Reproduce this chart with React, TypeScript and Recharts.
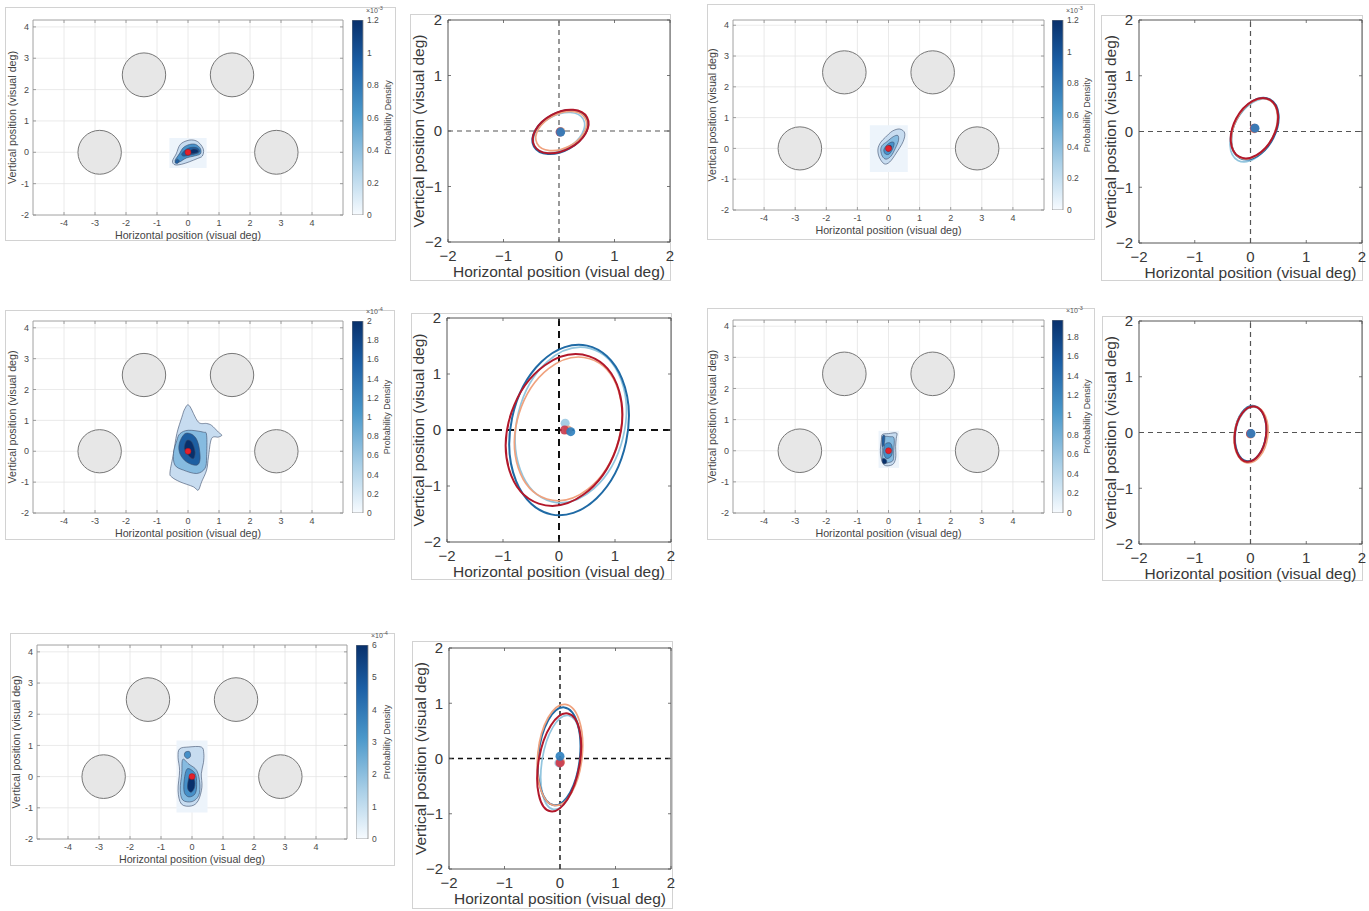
import React from "react";
import {
  Bar,
  BarChart,
  CartesianGrid,
  Label,
  ReferenceArea,
  ReferenceLine,
  Scatter,
  ScatterChart,
  XAxis,
  YAxis,
} from "recharts";

type XY = [number, number];
type Box = { x: number; y: number; w: number; h: number };

const FONT = '"Liberation Sans", Arial, Helvetica, sans-serif';

//------------------------------------------------------------
// Data (visual deg)
//------------------------------------------------------------

// placeholder discs shown on every density map
const targetX = [-2.85, -1.42, 1.42, 2.85];
const targetY = [0, 2.47, 2.47, 0];
const targetR = 0.7;

const heatXTicks = [-4, -3, -2, -1, 0, 1, 2, 3, 4];
const heatYTicks = [-2, -1, 0, 1, 2, 3, 4];
const ellTicks = [-2, -1, 0, 1, 2];

// density contour outlines, outer -> inner
const bgA: XY[] = [[-0.6, -0.5], [0.6, -0.5], [0.6, 0.46], [-0.6, 0.46]];
const blobA_edge: XY[] = [[-0.5, -0.28], [-0.38, -0.05], [-0.25, 0.25], [0.0, 0.38], [0.22, 0.38], [0.38, 0.28], [0.5, 0.08], [0.46, -0.12], [0.3, -0.2], [0.05, -0.3], [-0.2, -0.38], [-0.42, -0.4]];
const blobA_mid: XY[] = [[-0.42, -0.27], [-0.28, -0.05], [-0.15, 0.15], [0.05, 0.25], [0.25, 0.25], [0.4, 0.12], [0.4, -0.05], [0.2, -0.12], [-0.05, -0.18], [-0.3, -0.32]];
const blobA_high: XY[] = [[-0.2, -0.05], [-0.05, 0.1], [0.15, 0.16], [0.33, 0.12], [0.36, 0.0], [0.2, -0.06], [0.0, -0.1], [-0.15, -0.12]];
const blobA_peak: XY[] = [[0.05, 0.02], [0.15, 0.1], [0.3, 0.08], [0.32, 0.0], [0.18, -0.04], [0.07, -0.04]];
const blobA_spot: XY[] = [[-0.42, -0.32], [-0.35, -0.22], [-0.28, -0.28], [-0.35, -0.36]];

const bgC: XY[] = [[-0.6, -0.77], [0.62, -0.77], [0.62, 0.75], [-0.6, 0.75]];
const blobC_edge: XY[] = [[-0.34, -0.02], [-0.3, -0.28], [-0.14, -0.5], [0.04, -0.44], [0.25, -0.15], [0.47, 0.22], [0.52, 0.5], [0.36, 0.63], [0.12, 0.56], [-0.1, 0.36], [-0.25, 0.2]];
const blobC_mid: XY[] = [[-0.25, -0.05], [-0.2, -0.25], [-0.08, -0.35], [0.08, -0.25], [0.22, 0.0], [0.32, 0.25], [0.3, 0.42], [0.15, 0.38], [-0.05, 0.22], [-0.2, 0.1]];
const blobC_high: XY[] = [[-0.15, -0.05], [-0.1, -0.18], [0.03, -0.18], [0.14, 0.0], [0.18, 0.18], [0.08, 0.2], [-0.06, 0.1]];
const blobC_peak: XY[] = [[-0.07, -0.02], [-0.02, -0.1], [0.06, -0.06], [0.1, 0.06], [0.04, 0.1], [-0.04, 0.06]];

const blobE_edge: XY[] = [[0.04, 1.48], [0.33, 0.95], [0.6, 0.9], [0.76, 0.84], [0.98, 0.62], [1.09, 0.52], [0.98, 0.46], [0.76, 0.41], [0.66, -0.18], [0.6, -0.61], [0.44, -0.99], [0.33, -1.26], [0.17, -1.15], [-0.26, -0.99], [-0.53, -0.83], [-0.58, -0.67], [-0.47, -0.08], [-0.36, 0.57], [-0.2, 1.1], [-0.1, 1.38]];
const blobE_mid: XY[] = [[-0.26, 0.57], [0.01, 0.68], [0.49, 0.62], [0.6, 0.52], [0.6, -0.18], [0.55, -0.55], [0.28, -0.72], [-0.15, -0.61], [-0.42, -0.45], [-0.47, -0.07], [-0.36, 0.35]];
const blobE_high: XY[] = [[-0.1, 0.57], [0.17, 0.52], [0.33, 0.25], [0.39, -0.24], [0.28, -0.45], [-0.04, -0.35], [-0.26, -0.08], [-0.28, 0.25]];
const blobE_peak: XY[] = [[-0.04, 0.35], [0.12, 0.3], [0.23, -0.02], [0.17, -0.24], [0.01, -0.13], [-0.12, 0.09]];

const bgG: XY[] = [[-0.32, -0.55], [0.34, -0.55], [0.34, 0.64], [-0.32, 0.64]];
const blobG_edge: XY[] = [[-0.2, 0.52], [0.0, 0.55], [0.26, 0.57], [0.25, 0.4], [0.23, 0.14], [0.23, -0.24], [0.12, -0.45], [-0.15, -0.45], [-0.26, -0.08], [-0.23, 0.35]];
const blobG_mid: XY[] = [[-0.17, 0.42], [0.05, 0.45], [0.18, 0.4], [0.17, 0.0], [0.15, -0.3], [0.0, -0.38], [-0.18, -0.38], [-0.2, 0.0]];
const blobG_high: XY[] = [[-0.12, 0.2], [0.05, 0.25], [0.12, 0.1], [0.1, -0.15], [-0.05, -0.25], [-0.15, -0.1]];
const blobG_low: XY[] = [[-0.18, -0.25], [-0.08, -0.28], [-0.06, -0.38], [-0.15, -0.42], [-0.2, -0.35]];
const blobG_rim: XY[] = [[-0.2, 0.45], [-0.12, 0.48], [-0.14, 0.2], [-0.2, 0.15]];

const bgI: XY[] = [[-0.5, -1.15], [0.5, -1.15], [0.5, 1.16], [-0.5, 1.16]];
const blobI_edge: XY[] = [[-0.4, 0.89], [-0.1, 0.95], [0.3, 0.95], [0.38, 0.75], [0.37, 0.45], [0.3, 0.09], [0.32, -0.34], [0.2, -0.77], [-0.02, -0.94], [-0.34, -0.88], [-0.45, -0.45], [-0.4, 0.19], [-0.45, 0.62]];
const blobI_mid: XY[] = [[-0.3, 0.55], [-0.1, 0.4], [0.15, 0.2], [0.25, -0.2], [0.22, -0.6], [0.0, -0.8], [-0.3, -0.75], [-0.38, -0.4], [-0.33, 0.1]];
const blobI_high: XY[] = [[-0.15, 0.25], [0.1, 0.1], [0.15, -0.25], [0.1, -0.55], [-0.1, -0.65], [-0.25, -0.5], [-0.25, -0.1]];
const blobI_peak: XY[] = [[-0.05, 0.05], [0.08, -0.1], [0.08, -0.35], [-0.03, -0.5], [-0.14, -0.38], [-0.12, -0.12]];
const blobI_top: XY[] = [[-0.22, 0.78], [-0.08, 0.8], [-0.05, 0.65], [-0.15, 0.58], [-0.24, 0.66]];

// colour bar scales
const cbTicksA = [0, 0.2, 0.4, 0.6, 0.8, 1, 1.2];
const cbTicksE = [0, 0.2, 0.4, 0.6, 0.8, 1, 1.2, 1.4, 1.6, 1.8, 2];
const cbTicksG = [0, 0.2, 0.4, 0.6, 0.8, 1, 1.2, 1.4, 1.6, 1.8];
const cbTicksI = [0, 1, 2, 3, 4, 5, 6];

// ellipses: [cx, cy, semi-major, semi-minor, angle deg]; order light blue, dark blue, orange, dark red
const ellB = [[0.0, -0.03, 0.5, 0.31, 29], [0.02, -0.02, 0.54, 0.34, 29], [0.04, 0.0, 0.49, 0.31, 27], [0.03, -0.01, 0.54, 0.34, 28]];
const ellD = [[0.06, 0.02, 0.61, 0.36, 62], [0.08, 0.05, 0.59, 0.37, 63], [0.07, 0.05, 0.58, 0.36, 63], [0.07, 0.06, 0.58, 0.37, 62]];
const ellF = [[0.21, 0.09, 1.41, 0.96, 76], [0.18, 0.0, 1.54, 1.04, 78], [0.165, 0.02, 1.31, 0.92, 73], [0.09, 0.0, 1.39, 0.99, 71]];
const ellH = [[0.01, -0.03, 0.49, 0.28, 82], [0.0, -0.02, 0.5, 0.28, 83], [0.01, -0.04, 0.51, 0.3, 82], [0.0, -0.03, 0.5, 0.28, 82]];
const ellJ = [[0.015, -0.07, 0.86, 0.34, 81], [-0.015, 0.04, 0.89, 0.375, 84], [0.0, 0.065, 0.92, 0.4, 84], [-0.015, -0.07, 0.9, 0.37, 80]];

// mean fixation positions, same order
const dotsB: XY[] = [[0.02, -0.02], [0.03, -0.02], [0.03, -0.01], [0.02, -0.02]];
const dotsD: XY[] = [[0.07, 0.06], [0.08, 0.06], [0.07, 0.05], [0.07, 0.06]];
const dotsF: XY[] = [[0.11, 0.12], [0.21, -0.03], [0.16, 0.0], [0.1, 0.0]];
const dotsH: XY[] = [[0.0, -0.02], [0.01, -0.02], [0.0, -0.03], [0.0, -0.02]];
const dotsJ: XY[] = [[-0.02, -0.08], [0.0, 0.04], [0.01, -0.06], [0.0, -0.08]];

//------------------------------------------------------------
// Styling
//------------------------------------------------------------

const ELL_COLORS = ["#92c5de", "#1f6aa5", "#f0a27e", "#b2182b"];
const ELL_WIDTHS = [1.7, 2, 1.7, 2];
const DOT_COLORS = ["#9cc9e2", "#2c7fbf", "#f0a27e", "#c83a4e"];
const DOT_ORDER = [0, 2, 3, 1];
const LEVELS = ["#c7dcf0", "#86bbe0", "#4690c8", "#1d5fa2", "#08306b"];
const PAD = 8;

const noShape = () => <g />;

const toPts = (a: XY[]) => a.map(([x, y]) => ({ x, y }));

function closedPath(p: { x: number; y: number }[], smooth: boolean) {
  if (!p || p.length < 3) return "";
  if (!smooth) return "M" + p.map((q) => `${q.x},${q.y}`).join("L") + "Z";
  const n = p.length;
  let d = `M${p[0].x},${p[0].y}`;
  for (let i = 0; i < n; i++) {
    const p0 = p[(i - 1 + n) % n];
    const p1 = p[i];
    const p2 = p[(i + 1) % n];
    const p3 = p[(i + 2) % n];
    const c1x = p1.x + (p2.x - p0.x) / 6;
    const c1y = p1.y + (p2.y - p0.y) / 6;
    const c2x = p2.x - (p3.x - p1.x) / 6;
    const c2y = p2.y - (p3.y - p1.y) / 6;
    d += `C${c1x},${c1y} ${c2x},${c2y} ${p2.x},${p2.y}`;
  }
  return d + "Z";
}

const polyLine = (fill: string, stroke: string, sw: number, smooth = true) => (props: any) =>
  <path d={closedPath(props.points, smooth)} fill={fill} stroke={stroke} strokeWidth={sw} />;

// points: centre, end of major axis, end of minor axis (already in pixels)
const ellipseLine = (stroke: string, sw: number, fill = "none") => (props: any) => {
  const [c, m, n] = props.points;
  const rx = Math.hypot(m.x - c.x, m.y - c.y);
  const ry = Math.hypot(n.x - c.x, n.y - c.y);
  const deg = (Math.atan2(m.y - c.y, m.x - c.x) * 180) / Math.PI;
  return (
    <ellipse cx={c.x} cy={c.y} rx={rx} ry={ry} transform={`rotate(${deg} ${c.x} ${c.y})`}
      fill={fill} stroke={stroke} strokeWidth={sw} />
  );
};

function axesPoints(e: number[]) {
  const [cx, cy, a, b, deg] = e;
  const t = (deg * Math.PI) / 180;
  return [
    { x: cx, y: cy },
    { x: cx + a * Math.cos(t), y: cy + a * Math.sin(t) },
    { x: cx - b * Math.sin(t), y: cy + b * Math.cos(t) },
  ];
}

const dotShape = (fill: string, r: number) => (p: any) =>
  <circle cx={p.cx} cy={p.cy} r={r} fill={fill} fillOpacity={0.9} />;

const redDot = (p: any) => <circle cx={p.cx} cy={p.cy} r={3} fill="#e3212b" stroke="#a8141c" strokeWidth={0.5} />;

type TickOpts = { plot: number; margin: number; len: number; size: number; color: string; tickColor: string; minus: string };

const fmt = (v: number, minus: string) => (v < 0 ? minus + Math.abs(v) : String(v));

const makeXTick = (o: TickOpts) => (props: any) => {
  const { x, y, payload } = props;
  const yb = y - o.margin;
  return (
    <g>
      <line x1={x} x2={x} y1={yb} y2={yb - o.len} stroke={o.tickColor} strokeWidth={0.8} />
      <line x1={x} x2={x} y1={yb - o.plot} y2={yb - o.plot + o.len} stroke={o.tickColor} strokeWidth={0.8} />
      <text x={x} y={y} dy="0.71em" textAnchor="middle" fontSize={o.size} fill={o.color} fontFamily={FONT}>
        {fmt(payload.value, o.minus)}
      </text>
    </g>
  );
};

const makeYTick = (o: TickOpts) => (props: any) => {
  const { x, y, payload } = props;
  const xl = x + o.margin;
  return (
    <g>
      <line x1={xl} x2={xl + o.len} y1={y} y2={y} stroke={o.tickColor} strokeWidth={0.8} />
      <line x1={xl + o.plot} x2={xl + o.plot - o.len} y1={y} y2={y} stroke={o.tickColor} strokeWidth={0.8} />
      <text x={x} y={y} dy="0.35em" textAnchor="end" fontSize={o.size} fill={o.color} fontFamily={FONT}>
        {fmt(payload.value, o.minus)}
      </text>
    </g>
  );
};

const frameStyle = (f: Box): React.CSSProperties => ({
  position: "absolute",
  left: f.x,
  top: f.y,
  width: f.w,
  height: f.h,
  border: "1px solid #d2d2d2",
  boxSizing: "border-box",
});

//------------------------------------------------------------
// Density map with colour bar
//------------------------------------------------------------

type Contour = { pts: XY[]; level: number };

interface HeatProps {
  id: string;
  frame: Box;
  plot: Box;
  yMax: number;
  labelX: number;
  bg?: XY[];
  contours: Contour[];
  cbX: number;
  cbW: number;
  cbMax: number;
  cbTicks: number[];
  cbExp: string;
}

function HeatPanel({ id, frame, plot, yMax, labelX, bg, contours, cbX, cbW, cbMax, cbTicks, cbExp }: HeatProps) {
  const cy = frame.y - PAD;
  const cw = frame.w;
  const ch = frame.h + 2 * PAD;
  const top = plot.y - cy;
  const yAxisW = plot.x - frame.x;
  const xAxisH = 25;
  const right = frame.x + cw - plot.x - plot.w;
  const bottom = ch - top - plot.h - xAxisH;
  const xTick = makeXTick({ plot: plot.h, margin: 5, len: 3, size: 9, color: "#4a4a4a", tickColor: "#8a8a8a", minus: "-" });
  const yTick = makeYTick({ plot: plot.w, margin: 4, len: 3, size: 9, color: "#4a4a4a", tickColor: "#8a8a8a", minus: "-" });
  const cbRight = frame.x + frame.w + 6;

  return (
    <>
      <div style={frameStyle(frame)} />
      <div style={{ position: "absolute", left: frame.x, top: cy }}>
        <ScatterChart width={cw} height={ch} margin={{ top, right, bottom, left: 0 }}>
          <CartesianGrid stroke="#e4e4e4" strokeWidth={0.8} />
          <XAxis type="number" dataKey="x" domain={[-5, 5]} ticks={heatXTicks} interval={0} allowDataOverflow
            height={xAxisH} tickSize={0} tickMargin={5} tickLine={false} axisLine={false} tick={xTick}>
            <Label value="Horizontal position (visual deg)" position="insideBottom" offset={1.5}
              style={{ fontSize: 10.7, fill: "#444", fontFamily: FONT }} />
          </XAxis>
          <YAxis type="number" dataKey="y" domain={[-2, yMax]} ticks={heatYTicks} interval={0} allowDataOverflow
            width={yAxisW} tickSize={0} tickMargin={4} tickLine={false} axisLine={false} tick={yTick}>
            <Label value="Vertical position (visual deg)" position="insideLeft" angle={-90} offset={labelX - frame.x}
              style={{ fontSize: 10.7, fill: "#444", fontFamily: FONT, textAnchor: "middle" }} />
          </YAxis>
          {bg && (
            <Scatter data={toPts(bg)} line={polyLine("#edf4fb", "none", 0, false)} shape={noShape} isAnimationActive={false} />
          )}
          {contours.map((c, i) => (
            <Scatter key={`c${i}`} data={toPts(c.pts)} line={polyLine(LEVELS[c.level], "#3a4c6a", 0.6)}
              shape={noShape} isAnimationActive={false} />
          ))}
          {targetX.map((tx, i) => (
            <Scatter key={`t${i}`}
              data={[{ x: tx, y: targetY[i] }, { x: tx + targetR, y: targetY[i] }, { x: tx, y: targetY[i] + targetR }]}
              line={ellipseLine("#777", 1, "#e7e7e7")} shape={noShape} isAnimationActive={false} />
          ))}
          <Scatter data={[{ x: 0, y: 0 }]} shape={redDot} isAnimationActive={false} />
          <ReferenceArea x1={-5} x2={5} y1={-2} y2={yMax} fill="none" stroke="#9a9a9a" strokeWidth={0.8} />
        </ScatterChart>
      </div>
      <div style={{ position: "absolute", left: cbX, top: frame.y }}>
        <BarChart width={cbRight - cbX} height={frame.h} data={[{ k: "cb", v: cbMax }]} barCategoryGap={0}
          margin={{ top: plot.y - frame.y, right: 0, left: 0, bottom: frame.h - (plot.y - frame.y) - plot.h }}>
          <defs>
            <linearGradient id={`grad-${id}`} x1="0" y1="0" x2="0" y2="1">
              <stop offset="0%" stopColor="#08306b" />
              <stop offset="22%" stopColor="#1c5fa5" />
              <stop offset="48%" stopColor="#4b98ca" />
              <stop offset="75%" stopColor="#a9cfe7" />
              <stop offset="100%" stopColor="#f7fbff" />
            </linearGradient>
          </defs>
          <XAxis dataKey="k" hide />
          <YAxis orientation="right" type="number" domain={[0, cbMax]} ticks={cbTicks} interval={0} allowDataOverflow
            width={cbRight - cbX - cbW} tickSize={0} tickMargin={4} tickLine={false} axisLine={false}
            tick={{ fontSize: 8.5, fill: "#4a4a4a", fontFamily: FONT }}
            tickFormatter={(v: number) => String(+v.toFixed(1))}>
            <Label value="Probability Density" position="insideRight" angle={-90} offset={14}
              style={{ fontSize: 9, fill: "#4a4a4a", fontFamily: FONT, textAnchor: "middle" }} />
          </YAxis>
          <Bar dataKey="v" fill={`url(#grad-${id})`} stroke="#8a8a8a" strokeWidth={0.8} isAnimationActive={false} />
        </BarChart>
      </div>
      <div style={{ position: "absolute", left: cbX + cbW + 3, top: plot.y - 16, fontSize: 7, color: "#555", fontFamily: FONT, lineHeight: "9px" }}>
        ×10<sup style={{ fontSize: 5.5 }}>{cbExp}</sup>
      </div>
    </>
  );
}

//------------------------------------------------------------
// Ellipse panel
//------------------------------------------------------------

interface EllProps {
  frame: Box;
  plot: Box;
  labelX: number;
  ellipses: number[][];
  dots: XY[];
  dashColor: string;
  dashWidth: number;
  dash: string;
}

function EllipsePanel({ frame, plot, labelX, ellipses, dots, dashColor, dashWidth, dash }: EllProps) {
  // chart box is the frame grown by PAD on top, right and bottom so no label is clipped
  const cy = frame.y - PAD;
  const cw = frame.w + PAD;
  const ch = frame.h + 2 * PAD;
  const top = plot.y - cy;
  const yAxisW = plot.x - frame.x;
  const xAxisH = 38;
  const right = frame.x + cw - plot.x - plot.w;
  const bottom = ch - top - plot.h - xAxisH;
  const xTick = makeXTick({ plot: plot.h, margin: 8, len: 3, size: 15, color: "#383838", tickColor: "#555", minus: "−" });
  const yTick = makeYTick({ plot: plot.w, margin: 6, len: 3, size: 15, color: "#383838", tickColor: "#555", minus: "−" });

  return (
    <>
      <div style={frameStyle(frame)} />
      <div style={{ position: "absolute", left: frame.x, top: cy }}>
        <ScatterChart width={cw} height={ch} margin={{ top, right, bottom, left: 0 }}>
          <XAxis type="number" dataKey="x" domain={[-2, 2]} ticks={ellTicks} interval={0} allowDataOverflow
            height={xAxisH} tickSize={0} tickMargin={8} tickLine={false} axisLine={false} tick={xTick}>
            <Label value="Horizontal position (visual deg)" position="insideBottom" offset={2.6}
              style={{ fontSize: 15.5, fill: "#383838", fontFamily: FONT }} />
          </XAxis>
          <YAxis type="number" dataKey="y" domain={[-2, 2]} ticks={ellTicks} interval={0} allowDataOverflow
            width={yAxisW} tickSize={0} tickMargin={6} tickLine={false} axisLine={false} tick={yTick}>
            <Label value="Vertical position (visual deg)" position="insideLeft" angle={-90} offset={labelX - frame.x}
              style={{ fontSize: 15.5, fill: "#383838", fontFamily: FONT, textAnchor: "middle" }} />
          </YAxis>
          <ReferenceLine x={0} stroke={dashColor} strokeWidth={dashWidth} strokeDasharray={dash} />
          <ReferenceLine y={0} stroke={dashColor} strokeWidth={dashWidth} strokeDasharray={dash} />
          {ellipses.map((e, i) => (
            <Scatter key={`e${i}`} data={axesPoints(e)} line={ellipseLine(ELL_COLORS[i], ELL_WIDTHS[i])}
              shape={noShape} isAnimationActive={false} />
          ))}
          {DOT_ORDER.map((k) => (
            <Scatter key={`d${k}`} data={[{ x: dots[k][0], y: dots[k][1] }]} shape={dotShape(DOT_COLORS[k], 4.5)}
              isAnimationActive={false} />
          ))}
          <ReferenceArea x1={-2} x2={2} y1={-2} y2={2} fill="none" stroke="#555" strokeWidth={1} />
        </ScatterChart>
      </div>
    </>
  );
}

//------------------------------------------------------------
// Figure
//------------------------------------------------------------

const contoursA: Contour[] = [
  { pts: blobA_edge, level: 0 }, { pts: blobA_mid, level: 2 }, { pts: blobA_high, level: 3 },
  { pts: blobA_peak, level: 4 }, { pts: blobA_spot, level: 3 },
];
const contoursC: Contour[] = [
  { pts: blobC_edge, level: 0 }, { pts: blobC_mid, level: 1 }, { pts: blobC_high, level: 2 }, { pts: blobC_peak, level: 4 },
];
const contoursE: Contour[] = [
  { pts: blobE_edge, level: 0 }, { pts: blobE_mid, level: 1 }, { pts: blobE_high, level: 3 }, { pts: blobE_peak, level: 4 },
];
const contoursG: Contour[] = [
  { pts: blobG_edge, level: 0 }, { pts: blobG_mid, level: 1 }, { pts: blobG_high, level: 2 },
  { pts: blobG_low, level: 4 }, { pts: blobG_rim, level: 3 },
];
const contoursI: Contour[] = [
  { pts: blobI_edge, level: 0 }, { pts: blobI_mid, level: 1 }, { pts: blobI_high, level: 2 },
  { pts: blobI_peak, level: 4 }, { pts: blobI_top, level: 2 },
];

export default function App() {
  return (
    <div style={{ position: "absolute", left: 0, top: 0, width: 1369, height: 911, background: "#fff", fontFamily: FONT, overflow: "hidden" }}>
      <HeatPanel id="a" frame={{ x: 5, y: 7, w: 391, h: 234 }} plot={{ x: 33, y: 20, w: 310, h: 195 }} yMax={4.22}
        labelX={12} bg={bgA} contours={contoursA} cbX={352} cbW={11} cbMax={1.2} cbTicks={cbTicksA} cbExp="-3" />
      <EllipsePanel frame={{ x: 410, y: 14, w: 261, h: 267 }} plot={{ x: 448, y: 20, w: 222, h: 222 }} labelX={418}
        ellipses={ellB} dots={dotsB} dashColor="#555" dashWidth={1.2} dash="5 4" />

      <HeatPanel id="c" frame={{ x: 707, y: 4, w: 388, h: 236 }} plot={{ x: 733, y: 20, w: 311, h: 190 }} yMax={4.17}
        labelX={712} bg={bgC} contours={contoursC} cbX={1052} cbW={11} cbMax={1.2} cbTicks={cbTicksA} cbExp="-3" />
      <EllipsePanel frame={{ x: 1101, y: 15, w: 262, h: 266 }} plot={{ x: 1139, y: 20, w: 223, h: 223 }} labelX={1110}
        ellipses={ellD} dots={dotsD} dashColor="#555" dashWidth={1.2} dash="5 4" />

      <HeatPanel id="e" frame={{ x: 5, y: 310, w: 390, h: 230 }} plot={{ x: 33, y: 321, w: 310, h: 192 }} yMax={4.22}
        labelX={12} contours={contoursE} cbX={352} cbW={11} cbMax={2} cbTicks={cbTicksE} cbExp="-4" />
      <EllipsePanel frame={{ x: 411, y: 313, w: 261, h: 267 }} plot={{ x: 447, y: 318, w: 224, h: 224 }} labelX={418}
        ellipses={ellF} dots={dotsF} dashColor="#111" dashWidth={2} dash="7 5" />

      <HeatPanel id="g" frame={{ x: 707, y: 308, w: 388, h: 232 }} plot={{ x: 733, y: 320, w: 311, h: 193 }} yMax={4.2}
        labelX={712} bg={bgG} contours={contoursG} cbX={1052} cbW={11} cbMax={1.97} cbTicks={cbTicksG} cbExp="-3" />
      <EllipsePanel frame={{ x: 1102, y: 316, w: 261, h: 265 }} plot={{ x: 1139, y: 321, w: 223, h: 223 }} labelX={1110}
        ellipses={ellH} dots={dotsH} dashColor="#555" dashWidth={1.2} dash="5 4" />

      <HeatPanel id="i" frame={{ x: 10, y: 633, w: 385, h: 233 }} plot={{ x: 37, y: 645, w: 310, h: 194 }} yMax={4.22}
        labelX={16} bg={bgI} contours={contoursI} cbX={356} cbW={12} cbMax={6} cbTicks={cbTicksI} cbExp="-4" />
      <EllipsePanel frame={{ x: 412, y: 641, w: 261, h: 268 }} plot={{ x: 449, y: 648, w: 222, h: 221 }} labelX={420}
        ellipses={ellJ} dots={dotsJ} dashColor="#111" dashWidth={1.4} dash="5 4" />
    </div>
  );
}
